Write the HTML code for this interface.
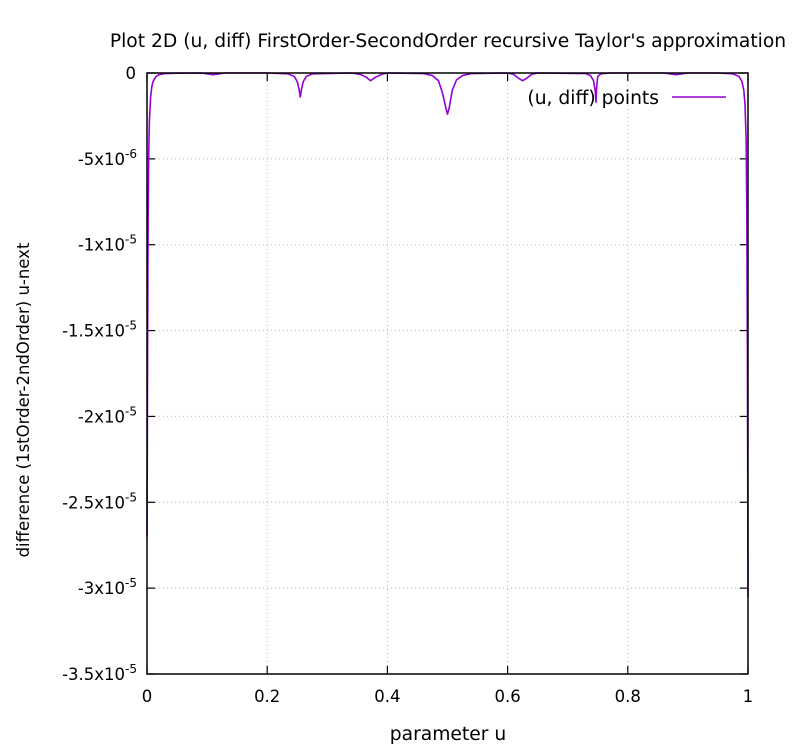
<!DOCTYPE html>
<html><head><meta charset="utf-8"><style>
body{margin:0;background:#fff;}
svg text{font-family:"DejaVu Sans","Liberation Sans",sans-serif;font-size:16.5px;fill:#000;}
svg text.big{font-size:18.7px;}
</style></head><body>
<svg width="809" height="749" viewBox="0 0 809 749" xmlns="http://www.w3.org/2000/svg">
<g id="grid"></g>
<g id="ticks"></g>
<text class="big" x="448" y="47" text-anchor="middle">Plot 2D (u, diff) FirstOrder-SecondOrder recursive Taylor's approximation</text>
<text class="big" x="448" y="740" text-anchor="middle">parameter u</text>
<text transform="translate(29,400) rotate(-90)" text-anchor="middle">difference (1stOrder-2ndOrder) u-next</text>
<path id="curve" fill="none" stroke="#9400d3" stroke-width="1.6" stroke-linejoin="round"/>
<rect x="147" y="73" width="601" height="601" fill="none" stroke="#000" stroke-width="1.5"/>
<g>
<text class="big" x="659" y="104" text-anchor="end">(u, diff) points</text>
<line x1="672" y1="97" x2="726" y2="97" stroke="#9400d3" stroke-width="1.6"/>
</g>
</svg>
<script>
const xTicks=[0,0.2,0.4,0.6,0.8,1];
const xTickLabels=["0","0.2","0.4","0.6","0.8","1"];
const yTicks=[0,-5,-10,-15,-20,-25,-30,-35];
const yTickLabels=[["0",""],["-5x10","-6"],["-1x10","-5"],["-1.5x10","-5"],["-2x10","-5"],["-2.5x10","-5"],["-3x10","-5"],["-3.5x10","-5"]];
const uVals=[0,0.0005,0.001,0.0015,0.002,0.003,0.004,0.006,0.008,0.01,0.015,0.02,0.03,0.05,0.09,0.11,0.13,0.2,0.235,0.245,0.25,0.253,0.255,0.257,0.26,0.265,0.275,0.34,0.355,0.365,0.372,0.38,0.39,0.4,0.46,0.475,0.485,0.492,0.497,0.5,0.503,0.508,0.515,0.525,0.54,0.6,0.61,0.618,0.625,0.632,0.64,0.65,0.73,0.738,0.743,0.746,0.747,0.748,0.75,0.755,0.77,0.86,0.88,0.9,0.95,0.975,0.985,0.99,0.993,0.995,0.997,0.998,0.999,1];
const diffVals=[-27,-22,-16,-11,-8,-4.5,-2.8,-1.4,-0.8,-0.5,-0.2,-0.1,-0.03,-0.01,0,-0.1,0,0,-0.05,-0.2,-0.5,-0.95,-1.4,-0.95,-0.5,-0.2,-0.05,0,-0.08,-0.25,-0.45,-0.25,-0.08,0,-0.03,-0.15,-0.45,-1.2,-2.0,-2.4,-2.0,-1.0,-0.4,-0.15,-0.03,0,-0.08,-0.3,-0.45,-0.3,-0.08,0,-0.03,-0.15,-0.45,-1.1,-1.7,-0.9,-0.2,-0.05,0,0,-0.1,0,0,-0.05,-0.2,-0.5,-1.0,-1.8,-4,-8,-16,-30.5];
const X0=147,X1=748,Y0=73,Y1=674;
const sx=u=>X0+(X1-X0)*u;
const sy=v=>Y0+(Y1-Y0)*(v/-35);
const NS="http://www.w3.org/2000/svg";
const grid=document.getElementById('grid'),ticks=document.getElementById('ticks');
function mk(tag,attrs,parent){const e=document.createElementNS(NS,tag);for(const k in attrs)e.setAttribute(k,attrs[k]);parent.appendChild(e);return e;}
xTicks.forEach((t,i)=>{const x=sx(t);
 if(i>0&&i<xTicks.length-1){const g=mk('line',{x1:x,y1:Y0,x2:x,y2:Y1,stroke:'#bbb','stroke-dasharray':'1,3'},grid);
 
 }
 const a=mk('line',{x1:x,y1:Y1,x2:x,y2:Y1-8,stroke:'#000','stroke-width':1.2},ticks);
 
 
 const b=mk('line',{x1:x,y1:Y0,x2:x,y2:Y0+8,stroke:'#000','stroke-width':1.2},ticks);
 
 
 const tx=mk('text',{x:x,y:Y1+28,'text-anchor':'middle'},ticks);tx.textContent=xTickLabels[i];
 
 
});
yTicks.forEach((t,i)=>{const y=sy(t);
 if(i>0&&i<yTicks.length-1){const g=mk('line',{x1:X0,y1:y,x2:X1,y2:y,stroke:'#bbb','stroke-dasharray':'1,3'},grid);
 
 }
 const a=mk('line',{x1:X0,y1:y,x2:X0+8,y2:y,stroke:'#000','stroke-width':1.2},ticks);
 
 
 const b=mk('line',{x1:X1,y1:y,x2:X1-8,y2:y,stroke:'#000','stroke-width':1.2},ticks);
 
 
 const tx=mk('text',{x:136,y:y+6,'text-anchor':'end'},ticks);
 
 
 const [m,e]=yTickLabels[i];
 if(e){tx.setAttribute('x',137);const s1=mk('tspan',{},tx);s1.textContent=m;const s2=mk('tspan',{dy:-7,'font-size':'12px'},tx);s2.textContent=e;}
 else tx.textContent=m;
});
let d='';uVals.forEach((u,i)=>{d+=(i?'L':'M')+sx(u).toFixed(2)+','+sy(diffVals[i]).toFixed(2);});
document.getElementById('curve').setAttribute('d',d);
</script>
</body></html>
